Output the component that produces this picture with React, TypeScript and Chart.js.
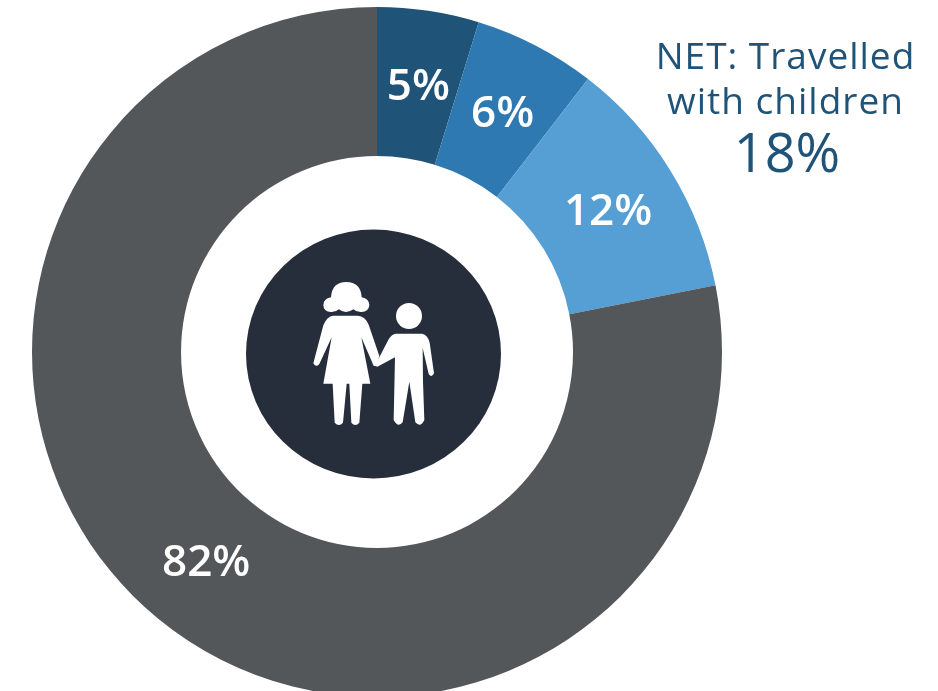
import React, { useEffect, useRef } from "react";
import { Chart, registerables } from "chart.js";

Chart.register(...registerables);

const categories = ["Children under 5", "Children 5-11", "Children 12-17", "Did not travel with children"];
const values = [5, 6, 12, 82];
const valueLabels = ["5%", "6%", "12%", "82%"];
const sliceColors = ["#1F5378", "#2E79B1", "#559FD5", "#54575A"];
const noteLines = ["NET: Travelled", "with children"];
const noteValue = "18%";

const W = 938;
const H = 800;
const FONT = '"Open Sans", sans-serif';

const motherPath =
  "M130 167 L203 167 Q226 169 236 194 L268 288 L258 318 Q250 320 247 308 L214 232 L241 371 L217 371 L208 488 Q196 502 184 488 L178 371 L170 371 L159 488 Q147 502 134 488 L128 371 L100 371 L125 232 L88 312 Q78 324 70 310 L100 196 Q110 169 130 167 Z";
const hairPath =
  "M123 112 Q126 66 169 66 Q212 66 215 112 Q238 116 238 136 Q236 157 212 156 Q198 156 190 148 Q180 156 168 156 Q156 156 147 148 Q138 156 125 156 Q101 157 100 136 Q100 116 123 112 Z";
const childPath =
  "M318 221 L396 221 Q414 225 419 248 L432 340 Q425 355 416 342 L398 264 L399 365 L403 480 Q392 504 376 487 L358 365 L338 487 Q324 504 311 480 L315 292 L262 320 L250 316 L268 292 L296 238 Q304 223 318 221 Z";

const decorations = {
  id: "decorations",
  afterDatasetsDraw(chart: any) {
    const ctx = chart.ctx as CanvasRenderingContext2D;
    const arcs = chart.getDatasetMeta(0).data;
    ctx.save();
    ctx.textAlign = "center";
    ctx.textBaseline = "middle";
    ctx.fillStyle = "#FFFFFF";
    ctx.font = `600 44px ${FONT}`;
    arcs.forEach((arc: any, i: number) => {
      const p = arc.getCenterPoint();
      ctx.fillText(valueLabels[i], p.x + 1, p.y + 3);
    });

    const cx = arcs[0].x;
    const cy = arcs[0].y;
    ctx.fillStyle = "#262E3B";
    ctx.beginPath();
    ctx.ellipse(cx - 3.5, cy + 2, 127.5, 124.5, 0, 0, Math.PI * 2);
    ctx.fill();

    ctx.save();
    ctx.translate(290, 260);
    ctx.scale(1 / 3, 1 / 3);
    ctx.fillStyle = "#FFFFFF";
    ctx.fill(new Path2D(motherPath));
    ctx.fill(new Path2D(hairPath));
    ctx.fill(new Path2D(childPath));
    ctx.beginPath();
    ctx.arc(357, 168, 39, 0, Math.PI * 2);
    ctx.fill();
    ctx.restore();

    ctx.fillStyle = "#1F5378";
    ctx.textBaseline = "alphabetic";
    ctx.font = `400 37px ${FONT}`;
    (ctx as any).letterSpacing = "1px";
    ctx.fillText(noteLines[0], 785.5, 69);
    ctx.fillText(noteLines[1], 785.5, 114);
    ctx.font = `400 54px ${FONT}`;
    (ctx as any).letterSpacing = "0px";
    ctx.fillText(noteValue, 787, 172);
    ctx.restore();
  },
};

export default function App() {
  const ref = useRef<HTMLCanvasElement>(null);
  useEffect(() => {
    const chart = new Chart(ref.current!, {
      type: "doughnut",
      data: {
        labels: categories,
        datasets: [
          {
            data: values,
            backgroundColor: sliceColors,
            borderWidth: 0,
            spacing: 0,
          },
        ],
      },
      options: {
        responsive: false,
        animation: false,
        cutout: "56.8%",
        layout: { padding: { left: 32, right: W - 722, top: 7, bottom: H - 697 } },
        plugins: { legend: { display: false }, tooltip: { enabled: false } },
      },
      plugins: [decorations],
    });
    return () => chart.destroy();
  }, []);
  return (
    <div style={{ position: "fixed", left: 0, top: 0, width: 938, height: 691, overflow: "hidden", background: "#fff" }}>
      <canvas ref={ref} width={W} height={H} style={{ display: "block", width: W, height: H }} />
    </div>
  );
}
